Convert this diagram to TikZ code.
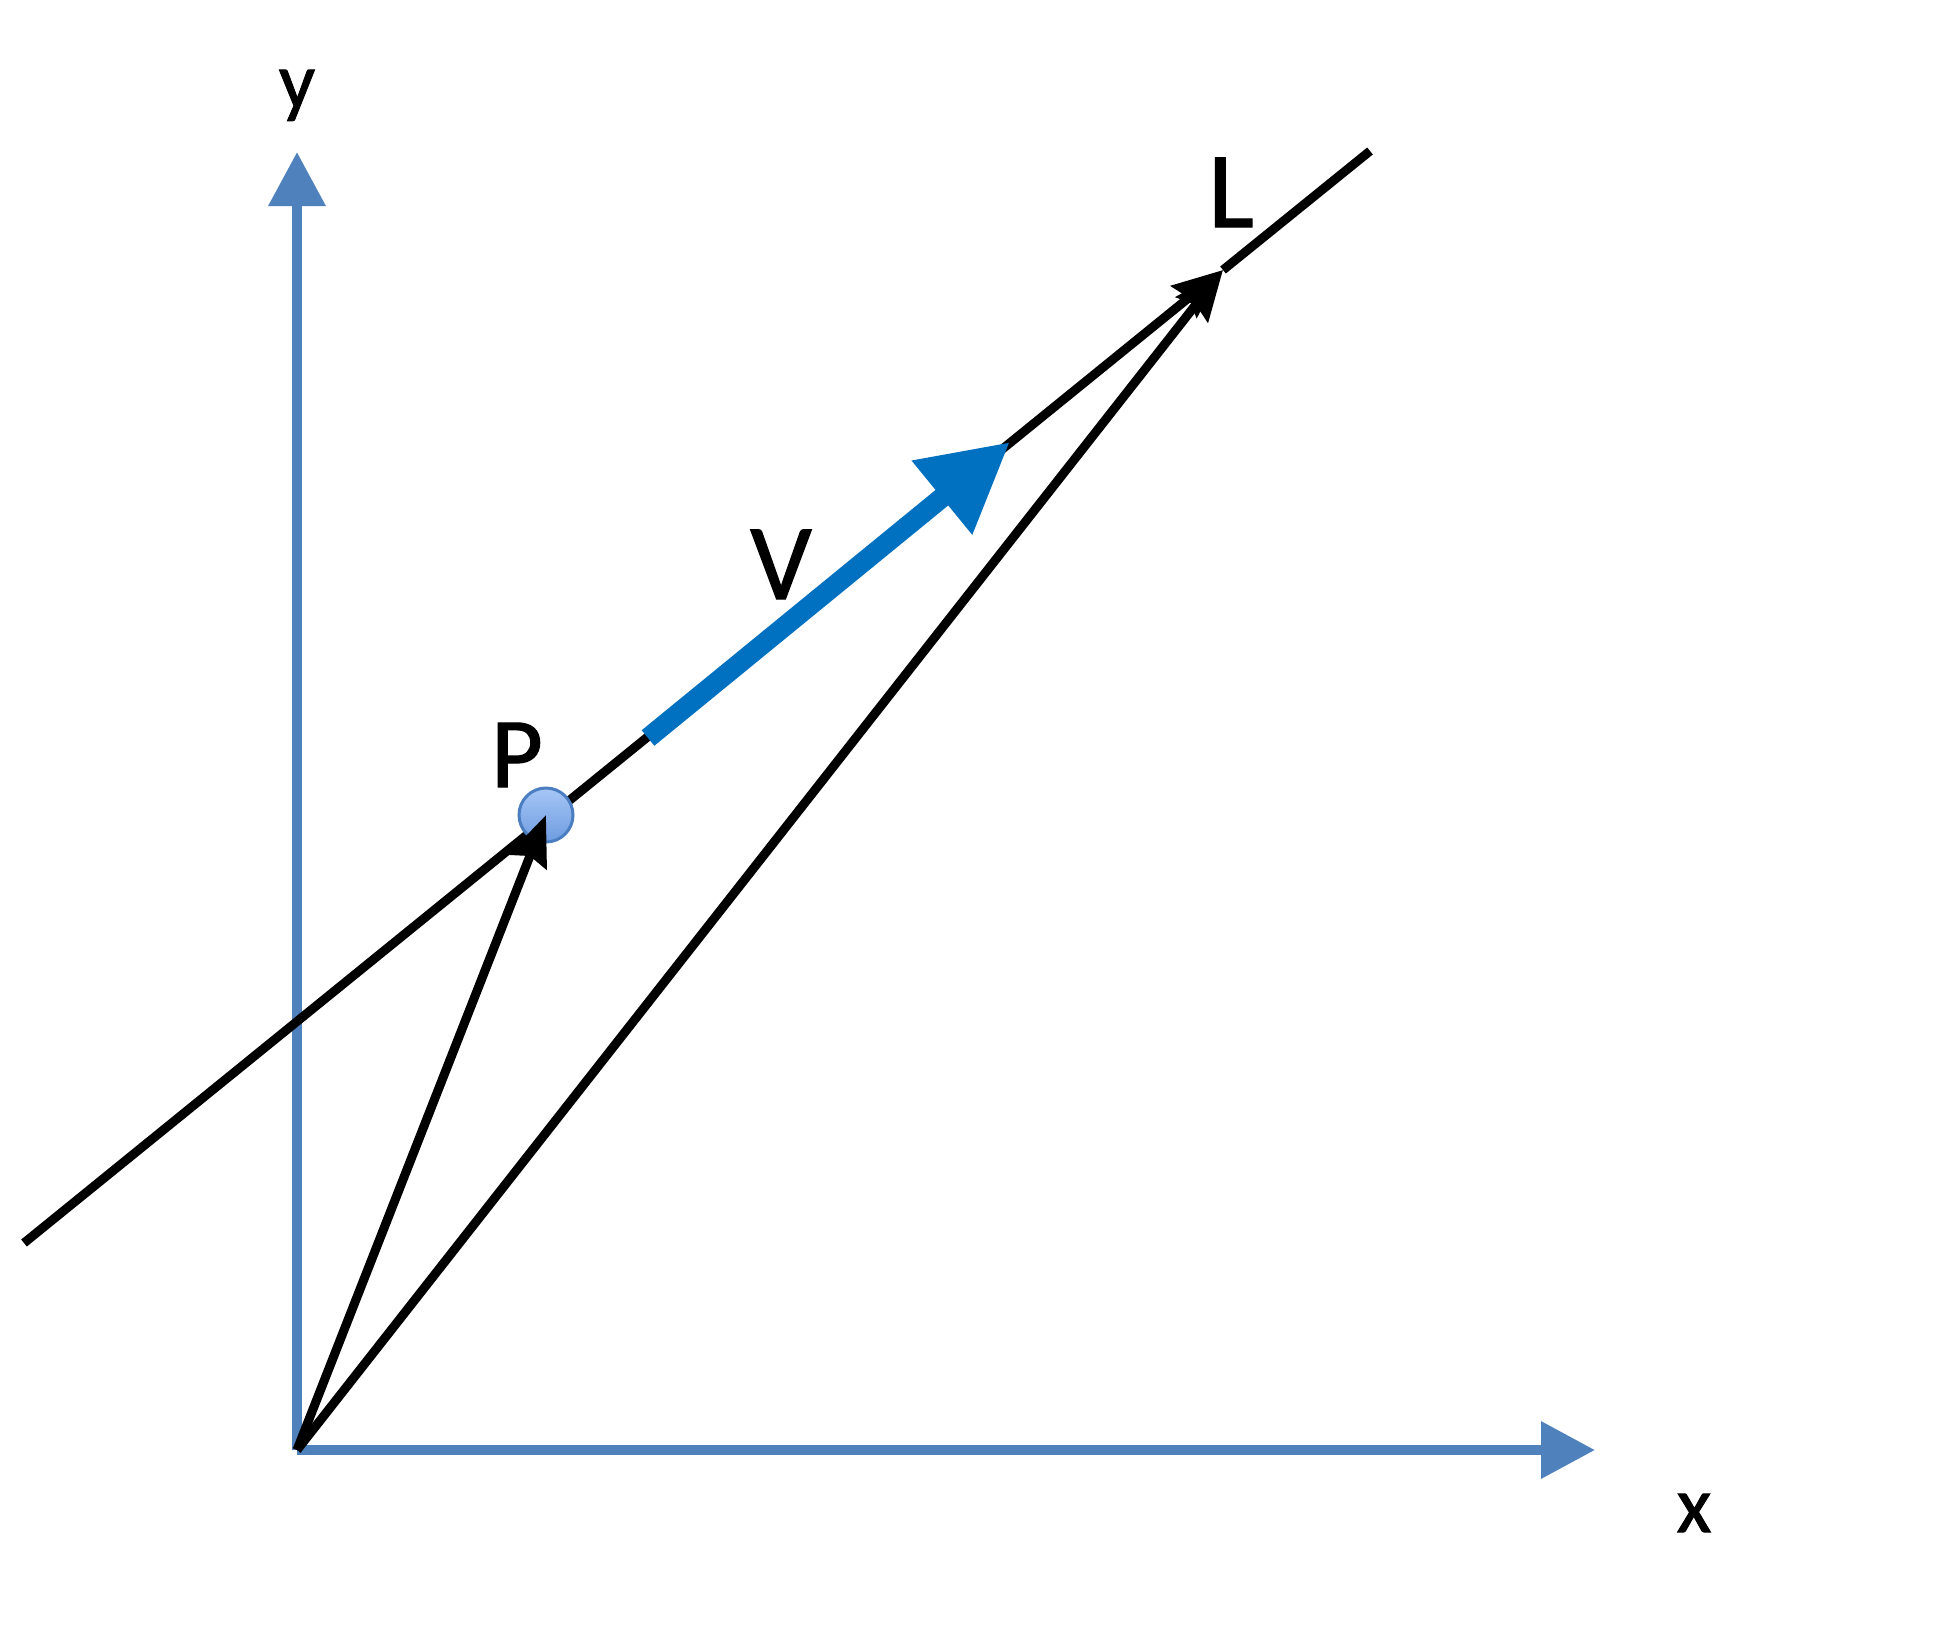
\documentclass[tikz,border=0pt]{standalone}
\usepackage{fontspec}
\setmainfont{Carlito}[BoldFont=Carlito,BoldFeatures={FakeBold=1.2}]
\usetikzlibrary{arrows.meta}
\definecolor{axisblue}{HTML}{4F81BD}
\definecolor{vecblue}{HTML}{0070C0}
\definecolor{pttop}{HTML}{A6C6F6}
\definecolor{ptbot}{HTML}{6E9CE0}
\definecolor{ptline}{HTML}{4A7EC0}

\begin{document}
\begin{tikzpicture}[x=0.5pt,y=-0.5pt,
  axis/.style={axisblue,line width=5pt,-{Triangle[length=27pt,width=27.5pt]}},
  vec/.style={black,line width=4.5pt,-{Stealth[length=25pt,width=20pt,inset=3pt]}},
  ray/.style={black,line width=4.5pt},
  dir/.style={vecblue,line width=10pt,-{Triangle[length=44pt,width=45pt]}},
  pt/.style={circle,minimum size=27pt,inner sep=0pt,draw=ptline,line width=1.5pt,
    top color=pttop,bottom color=ptbot},
  lab/.style={inner sep=0pt,anchor=base,font=\fontsize{54}{60}\selectfont\bfseries},
  axlab/.style={inner sep=0pt,anchor=base,font=\fontsize{40}{46}\selectfont\bfseries}]
\useasboundingbox (0,0) rectangle (1943,1633);
\coordinate (O) at (297,1450);
\coordinate (xtip) at (1595,1450);
\coordinate (ytip) at (297,152);
\coordinate (Lstart) at (24,1243);
\coordinate (Lend) at (1370,151);
\coordinate (Lpt) at (1223,270);
\coordinate (Vstart) at (648,738);
\coordinate (Vend) at (1010,442);
% axes
\draw[axis] (O) -- (xtip);
\draw[axis] (O) -- (ytip);
\node[axlab] (xlab) at (1694,1532) {x};
\node[axlab] (ylab) at (297,108) {y};
% line L
\draw[vec] (Lstart) -- (Lpt);
\draw[ray] (Lpt) -- (Lend);
\node[lab] (Llab) at (1231,227) {L};
\node[pt] (P) at (546,815) {};
\node[lab,font=\fontsize{50}{56}\selectfont\bfseries] (Plab) at (517,787) {P};
\draw[vec] (O) -- (P.center);
\draw[vec] (O) -- (Lpt);
% direction V
\draw[dir] (Vstart) -- (Vend);
\node[lab] (Vlab) at (781,599) {V};
\end{tikzpicture}
\end{document}
